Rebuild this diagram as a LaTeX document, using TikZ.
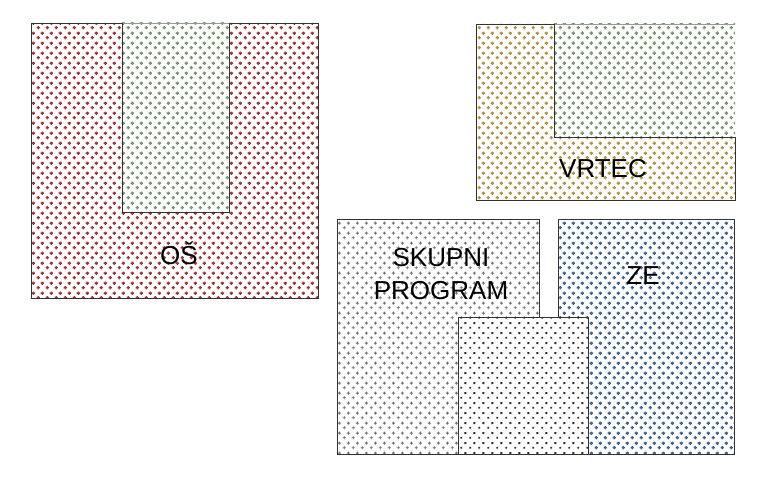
\documentclass[tikz,border=0pt]{standalone}
\usepackage{fontspec}
\setmainfont{Liberation Sans}
\usetikzlibrary{patterns}
\pgfdeclarepatternformonly{boldplus}{\pgfqpoint{0pt}{0pt}}{\pgfqpoint{9pt}{10pt}}{\pgfqpoint{9pt}{10pt}}{%
  \pgfpathrectangle{\pgfqpoint{0.7pt}{1.7pt}}{\pgfqpoint{3.6pt}{1.6pt}}%
  \pgfpathrectangle{\pgfqpoint{1.7pt}{0.7pt}}{\pgfqpoint{1.6pt}{3.6pt}}%
  \pgfpathrectangle{\pgfqpoint{5.2pt}{6.7pt}}{\pgfqpoint{3.6pt}{1.6pt}}%
  \pgfpathrectangle{\pgfqpoint{6.2pt}{5.7pt}}{\pgfqpoint{1.6pt}{3.6pt}}%
  \pgfusepath{fill}}
\pgfdeclarepatternformonly{thinplus}{\pgfqpoint{0pt}{0pt}}{\pgfqpoint{9pt}{10pt}}{\pgfqpoint{9pt}{10pt}}{%
  \pgfpathrectangle{\pgfqpoint{0.8pt}{2.0pt}}{\pgfqpoint{3.4pt}{1.0pt}}%
  \pgfpathrectangle{\pgfqpoint{2.0pt}{0.8pt}}{\pgfqpoint{1.0pt}{3.4pt}}%
  \pgfpathrectangle{\pgfqpoint{5.3pt}{7.0pt}}{\pgfqpoint{3.4pt}{1.0pt}}%
  \pgfpathrectangle{\pgfqpoint{6.5pt}{5.8pt}}{\pgfqpoint{1.0pt}{3.4pt}}%
  \pgfusepath{fill}}
\pgfdeclarepatternformonly{smalldot}{\pgfqpoint{0pt}{0pt}}{\pgfqpoint{9pt}{10pt}}{\pgfqpoint{9pt}{10pt}}{%
  \pgfpathrectangle{\pgfqpoint{1.5pt}{1.5pt}}{\pgfqpoint{2pt}{2pt}}%
  \pgfpathrectangle{\pgfqpoint{6.0pt}{6.5pt}}{\pgfqpoint{2pt}{2pt}}%
  \pgfusepath{fill}}
\definecolor{redC}{HTML}{983838}
\definecolor{greenC}{HTML}{7A9470}
\definecolor{goldC}{HTML}{AE9248}
\definecolor{blueC}{HTML}{42628A}
\definecolor{grayC}{HTML}{707070}
\definecolor{darkC}{HTML}{2A2A2A}
\tikzset{
  outline/.style={draw=black!80, line width=0.8pt, line join=miter},
  faint/.style={draw=black!40, line width=0.6pt},
  lbl/.style={font=\fontsize{26}{33}\selectfont, text=black, inner sep=0pt, align=center},
}
\begin{document}
\begin{tikzpicture}[x=1pt, y=-1pt]
\useasboundingbox (0,0) rectangle (757,500);
% OS block
\fill[pattern=boldplus, pattern color=greenC] (122,23) rectangle (229,212);
\draw[faint] (122,23) -- (229,23);
\draw[outline, pattern=boldplus, pattern color=redC]
  (31,23) -- (122,23) -- (122,212) -- (229,212) -- (229,23) -- (318,23) -- (318,298) -- (31,298) -- cycle;
\node[lbl, text height=18pt, text depth=0pt, anchor=base] (os) at (179,264) {OŠ};
% VRTEC block
\fill[pattern=boldplus, pattern color=greenC] (554,24) rectangle (735,137);
\draw[faint] (554,24) -- (735,24);
\draw[outline, pattern=boldplus, pattern color=goldC]
  (476,24) -- (554,24) -- (554,137) -- (735,137) -- (735,200) -- (476,200) -- cycle;
\node[lbl, anchor=base] (vrtec) at (603,177) {VRTEC};
% SKUPNI PROGRAM block
\draw[outline, pattern=thinplus, pattern color=grayC]
  (337,219) -- (539,219) -- (539,317) -- (458,317) -- (458,454) -- (337,454) -- cycle;
\draw[outline, pattern=smalldot, pattern color=darkC] (458,317) rectangle (588,454);
\draw[outline, pattern=boldplus, pattern color=blueC]
  (558,219) -- (734,219) -- (734,454) -- (588,454) -- (588,317) -- (558,317) -- cycle;
\node[lbl, anchor=base] (skupni) at (441,266) {SKUPNI};
\node[lbl, anchor=base] (program) at (441,299) {PROGRAM};
\node[lbl, anchor=base] (ze) at (643,284) {ZE};
\end{tikzpicture}
\end{document}
